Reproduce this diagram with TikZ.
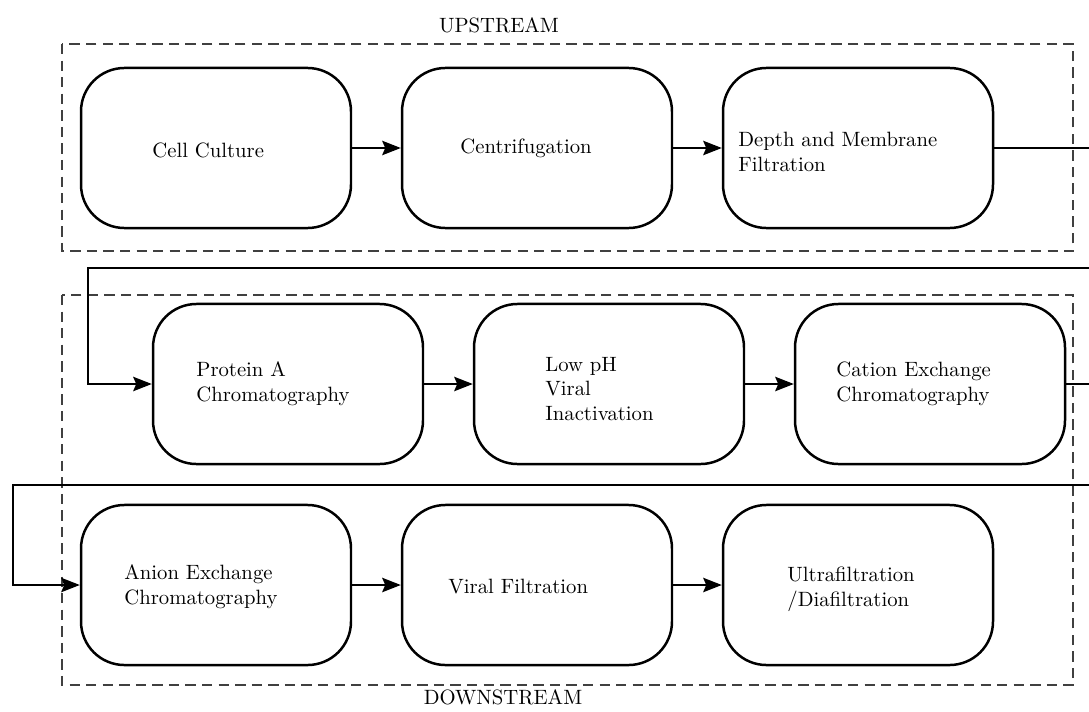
\documentclass[tikz,border=0pt]{standalone}
\usetikzlibrary{arrows.meta}
\begin{document}
\begin{tikzpicture}[
  x=0.483pt, y=-0.483pt,
  stepbox/.style={draw, line width=1.2pt, rounded corners=21pt,
    minimum width=130.4pt, minimum height=77.3pt, inner sep=0pt},
  steptext/.style={anchor=west, align=left, inner sep=0pt, font=\normalsize},
  flow/.style={line width=0.7pt, -{Stealth[length=9pt, width=7pt, inset=1.5pt]}},
  link/.style={line width=0.7pt},
  stage/.style={draw=black!75, line width=0.6pt, dash pattern=on 5pt off 3pt},
  stagelabel/.style={inner sep=0pt}
]
\clip (0,0) rectangle (1089,711);

% stage frames
\draw[stage] (62,44) rectangle (1073,251);
\draw[stage] (62,295) rectangle (1073,685);
\node[stagelabel] (up) at (499,25) {UPSTREAM};
\node[stagelabel] (down) at (503,697) {DOWNSTREAM};

% upstream steps
\node[stepbox] (b1) at (216,148) {};
\node[stepbox] (b2) at (537,148) {};
\node[stepbox] (b3) at (858,148) {};
\node[steptext] (t1) at (152,150) {Cell Culture};
\node[steptext] (t2) at (460,148) {Centrifugation};
\node[steptext] (t3) at (738,152) {Depth and Membrane\\Filtration};

% downstream steps, first row
\node[stepbox] (b4) at (288,384) {};
\node[stepbox] (b5) at (609,384) {};
\node[stepbox] (b6) at (930,384) {};
\node[steptext] (t4) at (196,384) {Protein A\\Chromatography};
\node[steptext] (t5) at (545,389) {Low pH\\Viral\\Inactivation};
\node[steptext] (t6) at (836,384) {Cation Exchange\\Chromatography};

% downstream steps, second row
\node[stepbox] (b7) at (216,585) {};
\node[stepbox] (b8) at (537,585) {};
\node[stepbox] (b9) at (858,585) {};
\node[steptext] (t7) at (124,587) {Anion Exchange\\Chromatography};
\node[steptext] (t8) at (448,587) {Viral Filtration};
\node[steptext] (t9) at (787,589) {Ultrafiltration\\/Diafiltration};

% turn points of the wrap-around links
\coordinate (r1) at (1100,148);
\coordinate (r1b) at (1100,268);
\coordinate (l1) at (88,268);
\coordinate (r2) at (1100,384);
\coordinate (r2b) at (1100,485);
\coordinate (l2) at (13,485);

% flow between steps
\draw[flow] (b1) -- (b2);
\draw[flow] (b2) -- (b3);
\draw[link] (b3.east) -- (r1);
\draw[flow] (r1b) -- (l1) |- (b4.west);
\draw[flow] (b4) -- (b5);
\draw[flow] (b5) -- (b6);
\draw[link] (b6.east) -- (r2);
\draw[flow] (r2b) -- (l2) |- (b7.west);
\draw[flow] (b7) -- (b8);
\draw[flow] (b8) -- (b9);
\end{tikzpicture}
\end{document}
